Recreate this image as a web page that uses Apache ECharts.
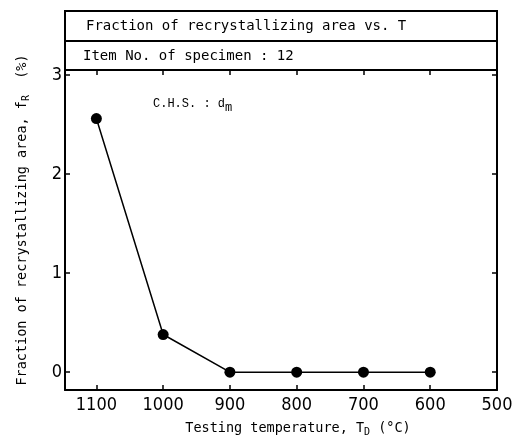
<!DOCTYPE html>
<html>
<head>
<meta charset="utf-8">
<script src="https://cdn.jsdelivr.net/npm/echarts@6/dist/echarts.min.js"></script>
<style>html,body{margin:0;padding:0;background:#fff}#c{width:520px;height:444px}</style>
</head>
<body>
<div id="c"></div>
<script>
const temperatures = [1100, 1000, 900, 800, 700, 600];
const fractions = [2.56, 0.38, 0.0, 0.0, 0.0, 0.0];
const xTicks = [500, 600, 700, 800, 900, 1000, 1100];
const yTicks = [0, 1, 2, 3];

const chart = echarts.init(document.getElementById('c'));
const mono = "'DejaVu Sans Mono', 'Liberation Mono', monospace";
const tickFont = "'Liberation Sans Narrow', 'DejaVu Sans Condensed', 'Liberation Sans', sans-serif";
const axisLine = {show: true, onZero: false, lineStyle: {color: '#000', width: 2}};
const tick = {show: true, inside: true, length: 5, lineStyle: {color: '#000', width: 1.5}};
const plain = v => String(v);

chart.setOption({
  animation: false,
  backgroundColor: '#fff',
  grid: {left: 65, right: 23, top: 70, bottom: 54},
  xAxis: [{
    type: 'value', min: 500, max: 1147, inverse: true,
    axisLine: axisLine,
    axisTick: Object.assign({customValues: xTicks}, tick),
    axisLabel: {customValues: xTicks, formatter: plain, color: '#000', fontFamily: tickFont, fontSize: 18, margin: 6},
    splitLine: {show: false}
  }, {
    type: 'value', min: 500, max: 1147, inverse: true, position: 'top',
    axisLine: axisLine,
    axisTick: Object.assign({customValues: xTicks}, tick),
    axisLabel: {show: false}, splitLine: {show: false}
  }],
  yAxis: [{
    type: 'value', min: -0.18, max: 3.05,
    axisLine: axisLine,
    axisTick: Object.assign({customValues: yTicks}, tick),
    axisLabel: {customValues: yTicks, formatter: plain, color: '#000', fontFamily: tickFont, fontSize: 18, margin: 3},
    splitLine: {show: false}
  }, {
    type: 'value', min: -0.18, max: 3.05, position: 'right',
    axisLine: axisLine,
    axisTick: Object.assign({customValues: yTicks}, tick),
    axisLabel: {show: false}, splitLine: {show: false}
  }],
  series: [{
    type: 'line',
    xAxisIndex: 0, yAxisIndex: 0,
    data: temperatures.map((t, i) => [t, fractions[i]]),
    symbol: 'circle', symbolSize: 11,
    itemStyle: {color: '#000'},
    lineStyle: {color: '#000', width: 1.5}
  }],
  graphic: [
    {type: 'rect', shape: {x: 65, y: 11, width: 432, height: 59}, style: {fill: 'none', stroke: '#000', lineWidth: 2}},
    {type: 'line', shape: {x1: 65, y1: 41, x2: 497, y2: 41}, style: {stroke: '#000', lineWidth: 2}},
    {type: 'text', x: 86, y: 26, style: {text: 'Fraction of recrystallizing area vs. T', font: '14px ' + mono, fill: '#000', verticalAlign: 'middle'}},
    {type: 'text', x: 83, y: 56, style: {text: 'Item No. of specimen : 12', font: '14px ' + mono, fill: '#000', verticalAlign: 'middle'}},
    {type: 'text', x: 153, y: 104, style: {
      text: 'C.H.S. : d{sub|m}', fill: '#000', verticalAlign: 'middle',
      rich: {sub: {fontSize: 12, fontFamily: "'Liberation Mono', monospace", padding: [8, 0, 0, 0]}},
      font: '12px "Liberation Mono", monospace'
    }},
    {type: 'text', x: 298, y: 428, style: {
      text: 'Testing temperature, T{sub|D} (°C)', fill: '#000', align: 'center', verticalAlign: 'middle',
      font: '13.5px ' + mono,
      rich: {sub: {fontSize: 10, fontFamily: mono, padding: [8, 0, 0, 0]}}
    }},
    {type: 'text', x: 22, y: 220, rotation: Math.PI / 2, style: {
      text: 'Fraction of recrystallizing area, f{sub|R}  (%)', fill: '#000', align: 'center', verticalAlign: 'middle',
      font: '13.5px ' + mono,
      rich: {sub: {fontSize: 10, fontFamily: mono, padding: [8, 0, 0, 0]}}
    }}
  ]
});
</script>
</body>
</html>
